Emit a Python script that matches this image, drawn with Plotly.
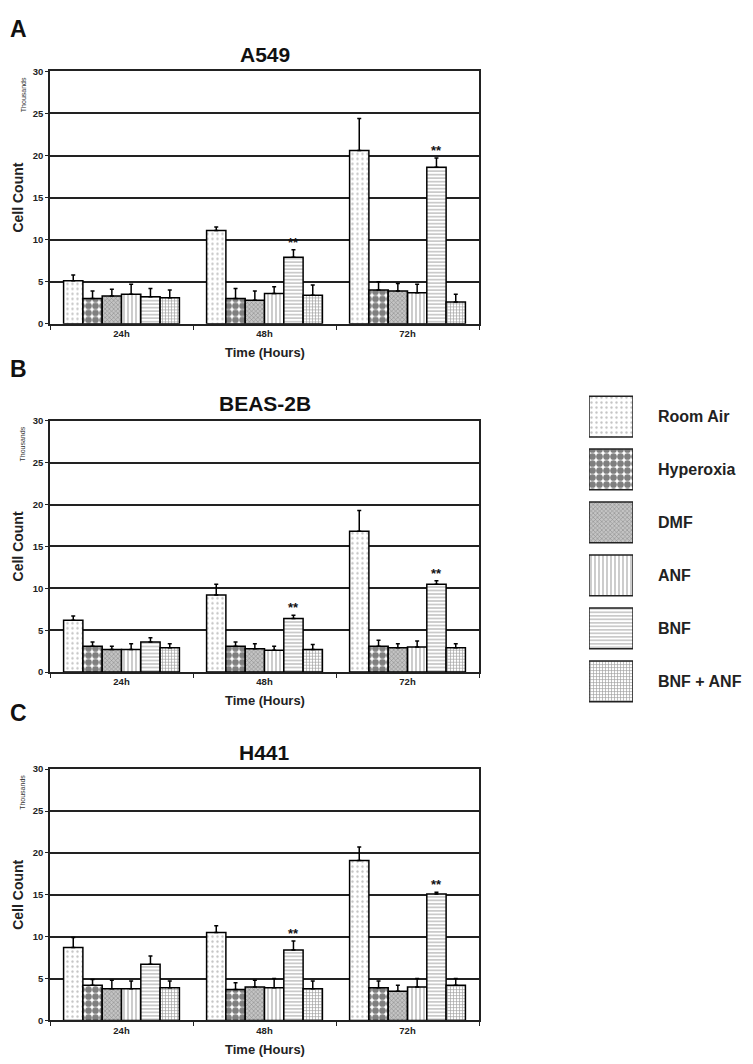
import plotly.graph_objects as go

# ---------------- data (thousands of cells) ----------------
times = ["24h", "48h", "72h"]
treatments = ["Room Air", "Hyperoxia", "DMF", "ANF", "BNF", "BNF + ANF"]
panels = ["A549", "BEAS-2B", "H441"]
letters = ["A", "B", "C"]

a549_room_air = [5.1, 11.1, 20.6]
a549_hyperoxia = [3.0, 3.0, 4.0]
a549_dmf = [3.3, 2.8, 3.9]
a549_anf = [3.5, 3.6, 3.7]
a549_bnf = [3.2, 7.9, 18.6]
a549_bnf_anf = [3.1, 3.4, 2.6]
a549_err = [[0.7, 0.4, 3.8], [0.9, 1.2, 1.0], [0.8, 1.1, 0.9],
            [1.2, 0.8, 1.0], [1.0, 0.9, 1.1], [0.9, 1.2, 0.9]]

beas_room_air = [6.2, 9.2, 16.8]
beas_hyperoxia = [3.1, 3.1, 3.1]
beas_dmf = [2.7, 2.8, 2.9]
beas_anf = [2.7, 2.6, 3.0]
beas_bnf = [3.6, 6.4, 10.5]
beas_bnf_anf = [2.9, 2.7, 2.9]
beas_err = [[0.5, 1.3, 2.5], [0.5, 0.5, 0.7], [0.4, 0.6, 0.5],
            [0.7, 0.5, 0.7], [0.5, 0.4, 0.4], [0.5, 0.6, 0.5]]

h441_room_air = [8.7, 10.5, 19.1]
h441_hyperoxia = [4.2, 3.7, 3.9]
h441_dmf = [3.8, 4.0, 3.5]
h441_anf = [3.8, 3.9, 4.0]
h441_bnf = [6.7, 8.4, 15.1]
h441_bnf_anf = [3.9, 3.8, 4.2]
h441_err = [[1.2, 0.8, 1.6], [0.7, 0.8, 0.8], [1.0, 0.8, 0.7],
            [0.9, 1.1, 1.0], [1.0, 1.1, 0.2], [0.8, 0.9, 0.8]]

significance = ["", "**", "**"]   # on BNF bars
sig_treatment = "BNF"

y_ticks = [0, 5, 10, 15, 20, 25, 30]

panel_values = [
    [a549_room_air, a549_hyperoxia, a549_dmf, a549_anf, a549_bnf, a549_bnf_anf],
    [beas_room_air, beas_hyperoxia, beas_dmf, beas_anf, beas_bnf, beas_bnf_anf],
    [h441_room_air, h441_hyperoxia, h441_dmf, h441_anf, h441_bnf, h441_bnf_anf],
]
panel_errors = [a549_err, beas_err, h441_err]

# ---------------- styles ----------------
W, H = 753, 1064
OFF = 8  # page body margin
FONT = "Liberation Sans, Arial, sans-serif"
patterns = [
    dict(shape=".", fgcolor="#8a8a8a", bgcolor="white", size=5, solidity=0.18),
    dict(shape=".", fgcolor="black", bgcolor="white", size=7, solidity=0.72),
    dict(shape="x", fgcolor="#555", bgcolor="#c4c4c4", size=3, solidity=0.35),
    dict(shape="|", fgcolor="#555", bgcolor="white", size=4, solidity=0.3),
    dict(shape="-", fgcolor="#666", bgcolor="white", size=3.5, solidity=0.35),
    dict(shape="+", fgcolor="#444", bgcolor="white", size=3, solidity=0.4),
]


def px(v):
    return (v - OFF) / W


def py(v):
    return 1 - (v - OFF) / H


# pixel positions (in the screenshot) of plot areas and panel letters
plot_tops = [66, 419, 771]
plot_bots = [321, 673, 1025]
letter_y = [None, 367, 714]
x_left, x_right = 50, 479
bargap = 0.19

fig = go.Figure()
annotations = []

for p in range(3):
    ax = "" if p == 0 else str(p + 1)
    for j, name in enumerate(treatments):
        vals = panel_values[p][j]
        err = panel_errors[p][j]
        fig.add_trace(go.Bar(
            x=times, y=vals, name=name, showlegend=False,
            xaxis="x" + ax, yaxis="y" + ax,
            marker=dict(color="white", pattern=patterns[j],
                        line=dict(color="black", width=1.5)),
            error_y=dict(type="data", symmetric=False, array=err,
                         arrayminus=[0] * len(err), color="black",
                         thickness=1.5, width=2),
        ))
    top, bot = plot_tops[p], plot_bots[p]
    fig.update_layout(**{
        "xaxis" + ax: dict(domain=[px(x_left), px(x_right)], anchor="y" + ax,
                           type="category", showline=True, linecolor="#222",
                           linewidth=1.5, mirror=True, ticks="outside",
                           tickson="boundaries", ticklen=4, tickcolor="#222",
                           tickfont=dict(family=FONT, size=9.5, color="#222",
                                         weight="bold"),
                           fixedrange=True),
        "yaxis" + ax: dict(domain=[py(bot), py(top)], anchor="x" + ax,
                           range=[0, 30],
                           tickvals=y_ticks, showline=True, linecolor="#222",
                           linewidth=1.5, mirror=True, ticks="outside",
                           ticklen=3, tickcolor="#222", showgrid=True,
                           gridcolor="#222", gridwidth=1.5, zeroline=False,
                           tickfont=dict(family=FONT, size=9.5, color="#222",
                                         weight="bold"),
                           fixedrange=True),
    })
    # significance stars above BNF bars
    j = treatments.index(sig_treatment)
    gw = 1 - bargap
    for i, t in enumerate(times):
        if significance[i]:
            xc = i - gw / 2 + (j + 0.5) * gw / len(treatments)
            annotations.append(dict(
                x=xc, y=panel_values[p][j][i] + panel_errors[p][j][i],
                xref="x" + ax, yref="y" + ax, text=significance[i],
                showarrow=False, xanchor="center", yanchor="bottom", yshift=-2,
                font=dict(family=FONT, size=13, color="#111", weight="bold")))
    # titles and labels
    lab = dict(xref="paper", yref="paper", showarrow=False,
               xanchor="center", yanchor="middle")
    if letter_y[p] is None:
        letter = dict(lab, x=0, xanchor="left", y=1, yanchor="top",
                      text=letters[p])
    else:
        letter = dict(lab, x=0, xanchor="left", y=py(letter_y[p]),
                      text=letters[p])
    letter["font"] = dict(family=FONT, size=23, color="#111", weight="bold")
    annotations += [
        letter,
        dict(lab, x=px((x_left + x_right) / 2), y=py(top - 17),
             text=panels[p],
             font=dict(family=FONT, size=21, color="#111", weight="bold")),
        dict(lab, x=px((x_left + x_right) / 2), y=py(bot + 29),
             text="Time (Hours)",
             font=dict(family=FONT, size=13, color="#222", weight="bold")),
        dict(lab, x=0, xanchor="left", y=py((top + bot) / 2),
             text="Cell Count", textangle=-90,
             font=dict(family=FONT, size=14, color="#222", weight="bold")),
        dict(lab, x=px(23), y=py(top + 24), text="Thousands", textangle=-90,
             font=dict(family=FONT, size=7, color="#333")),
    ]

# ---------------- legend drawn as a bar panel ----------------
fig.add_trace(go.Bar(
    y=treatments, x=[1] * len(treatments), orientation="h", showlegend=False,
    xaxis="x4", yaxis="y4", width=0.77,
    marker=dict(color="white",
                pattern=dict(shape=[pt["shape"] for pt in patterns],
                             fgcolor=[pt["fgcolor"] for pt in patterns],
                             bgcolor=[pt["bgcolor"] for pt in patterns],
                             size=[pt["size"] for pt in patterns],
                             solidity=[pt["solidity"] for pt in patterns]),
                line=dict(color="#222", width=1.5)),
))
fig.update_layout(
    xaxis4=dict(domain=[px(589), px(633)], anchor="y4", range=[0, 1],
                visible=False, fixedrange=True),
    yaxis4=dict(domain=[py(709), py(388)], anchor="x4", side="right",
                autorange="reversed", showline=False, showgrid=False,
                zeroline=False, ticks="", ticklabelstandoff=24,
                tickfont=dict(family=FONT, size=16, color="#222",
                              weight="bold"),
                fixedrange=True),
)

fig.update_layout(
    width=W, height=H, margin=dict(l=0, r=0, t=0, b=0),
    paper_bgcolor="white", plot_bgcolor="white",
    barmode="group", bargap=bargap, bargroupgap=0,
    annotations=annotations, showlegend=False,
)

fig.write_html("out.html")
